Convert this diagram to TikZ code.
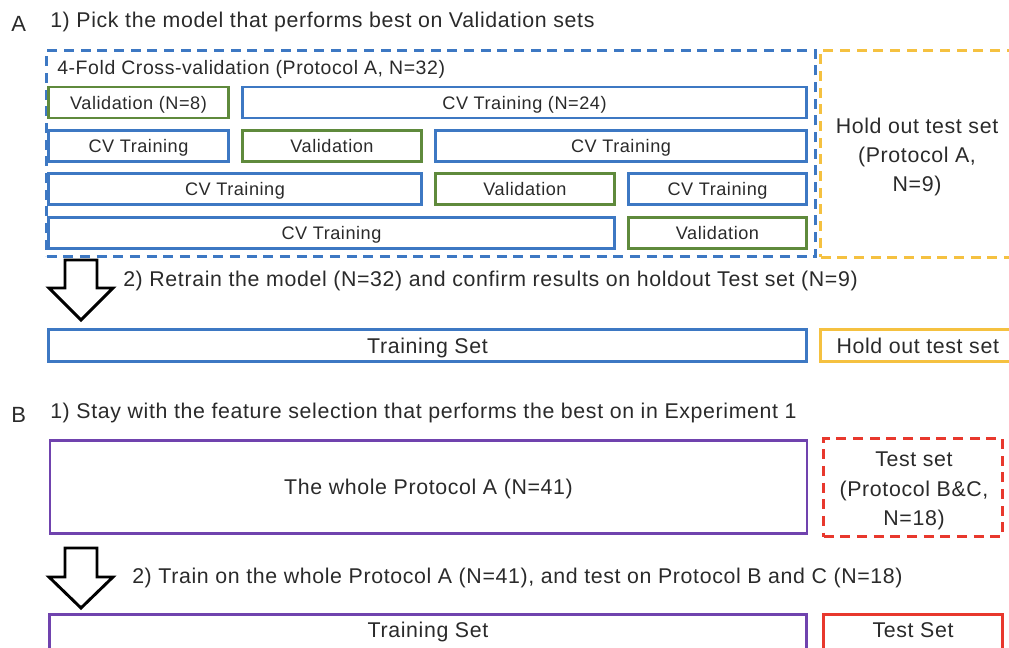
\documentclass[tikz,border=0pt]{standalone}
\usepackage{fontspec}
\setmainfont{Liberation Sans}[LetterSpace=3]
\usepackage{tikz}
\usetikzlibrary{positioning,shadows}
\definecolor{cvblue}{HTML}{3D78C3}
\definecolor{valgreen}{HTML}{5F8A3C}
\definecolor{holdgold}{HTML}{F5C140}
\definecolor{wholeviolet}{HTML}{7043AE}
\definecolor{testred}{HTML}{E8382D}
\definecolor{ink}{HTML}{2A2A2A}
\newcommand{\headf}{\fontsize{16}{22}\selectfont}
\newcommand{\rowf}{\fontsize{13.6}{16}\selectfont}
\newcommand{\foldf}{\fontsize{14.6}{17}\selectfont}
\tikzset{
  sz/.style 2 args = {minimum width=#1*0.75pt, minimum height=#2*0.75pt},
  split/.style     = {rectangle, draw=#1, line width=2.2pt, fill=white, inner sep=0pt,
                      font=\rowf, text=ink, text height=9.8pt, text depth=0pt},
  wide/.style      = {split=#1, font=\headf, text height=11.5pt},
  dashbox/.style   = {rectangle, draw=#1, line width=2.2pt, dash pattern=on 7.5pt off 5pt,
                      inner sep=0pt},
  txt/.style       = {font=\headf, text=ink, inner sep=0pt},
  blockarrow/.style = {draw=black, line width=2.2pt, fill=white, line join=miter},
}

\begin{document}
\begin{tikzpicture}[x=0.75pt, y=-0.75pt]
  \useasboundingbox (0,0) rectangle (1009,648);
  \clip (0,0) rectangle (1009,648);

  % A: model selection
  \node[txt, anchor=base west, font=\fontsize{16.5}{20}\selectfont] (labA) at (11,31.5) {A};
  \node[txt, anchor=base west] (stepA1) at (50,28) {1) Pick the model that performs best on Validation sets};

  \node[dashbox=cvblue, sz={769}{206}] (cvbox) at (431,153.5) {};
  \node[dashbox=holdgold, sz={194.5}{207}] (holdbox) at (917.75,154) {};
  \node[txt, align=center] (holdtxt) at (917,157) {Hold out test set\\(Protocol A,\\N=9)};
  \node[txt, anchor=base west, font=\foldf] (foldtitle) at (57,75) {4-Fold Cross-validation (Protocol A, N=32)};

  \node[split=valgreen, sz={180}{31}] (v1)  at (138.5,102.5) {Validation (N=8)};
  \node[split=cvblue,   sz={564}{31}] (t1)  at (524.5,102.5) {CV Training (N=24)};

  \node[split=cvblue,   sz={180}{31}] (t2a) at (138.5,146) {CV Training};
  \node[split=valgreen, sz={179}{31}] (v2)  at (332,146)   {Validation};
  \node[split=cvblue,   sz={371}{31}] (t2b) at (621,146)   {CV Training};

  \node[split=cvblue,   sz={373}{31}] (t3a) at (235,189)   {CV Training};
  \node[split=valgreen, sz={179}{31}] (v3)  at (525,189)   {Validation};
  \node[split=cvblue,   sz={178}{31}] (t3b) at (717.5,189) {CV Training};

  \node[split=cvblue,   sz={566}{31}] (t4)  at (331.5,233) {CV Training};
  \node[split=valgreen, sz={178}{31}] (v4)  at (717.5,233) {Validation};

  \draw[blockarrow] (65,260) -- (97,260) -- (97,288) -- (113,288) -- (81,320)
    -- (49,288) -- (65,288) -- cycle;
  \node[txt, anchor=base west] (stepA2) at (123,287)
    {2) Retrain the model (N=32) and confirm results on holdout Test set (N=9)};

  \node[wide=cvblue,   sz={758}{32}]   (trainA) at (427.5,345.5) {Training Set};
  \node[wide=holdgold, sz={194.5}{32}] (holdA)  at (917.75,345.5) {Hold out test set};

  % B: external test
  \node[txt, anchor=base west, font=\fontsize{16.5}{20}\selectfont] (labB) at (11,422) {B};
  \node[txt, anchor=base west] (stepB1) at (50,418)
    {1) Stay with the feature selection that performs the best on in Experiment 1};

  \node[wide=wholeviolet, sz={757}{93}, line width=2pt,
        drop shadow={opacity=0.15, shadow xshift=0.6pt, shadow yshift=-1pt}]
    (whole) at (428.5,487) {The whole Protocol A (N=41)};
  \node[dashbox=testred, sz={179}{98}] (testbox) at (913,487.5) {};
  \node[txt, align=center] (testtxt) at (914,491) {Test set\\(Protocol B\&C,\\N=18)};

  \draw[blockarrow] (65,548) -- (97,548) -- (97,577) -- (113,577) -- (81,608)
    -- (49,577) -- (65,577) -- cycle;
  \node[txt, anchor=base west] (stepB2) at (132,583)
    {2) Train on the whole Protocol A (N=41), and test on Protocol B and C (N=18)};

  \node[wide=wholeviolet, sz={757}{36}, line width=2pt, text depth=4.5pt] (trainB) at (428,632.5) {Training Set};
  \node[wide=testred,     sz={179}{36}, text depth=4.5pt] (testB)  at (913,632.5) {Test Set};
\end{tikzpicture}
\end{document}
